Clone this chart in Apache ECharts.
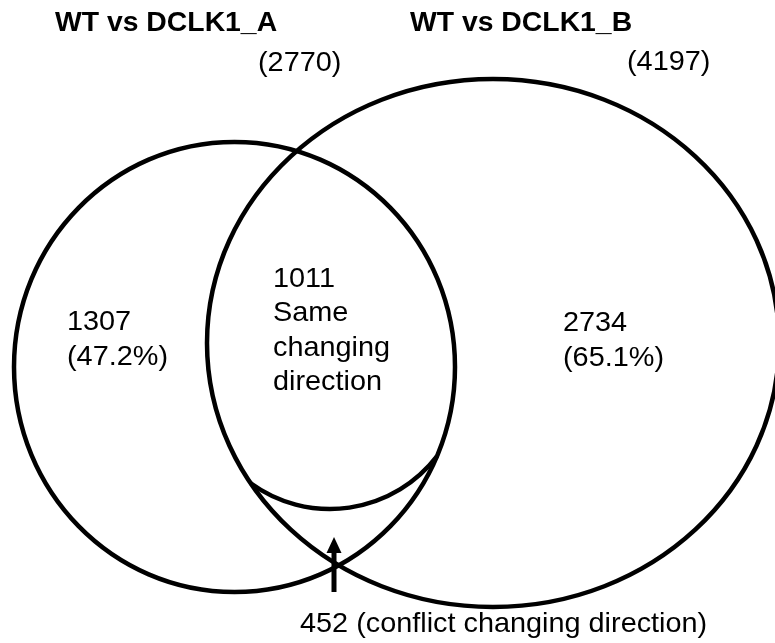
<!DOCTYPE html>
<html>
<head>
<meta charset="utf-8">
<script src="https://cdn.jsdelivr.net/npm/echarts@6/dist/echarts.min.js"></script>
<style>
  html, body { margin: 0; padding: 0; background: #ffffff; }
  #chart { width: 775px; height: 643px; }
</style>
</head>
<body>
<div id="chart"></div>
<script>
// ---- data ----
const setNames = ['WT vs DCLK1_A', 'WT vs DCLK1_B'];
const setTotals = [2770, 4197];
const uniqueCounts = [1307, 2734];
const sameDirectionCount = 1011;
const conflictDirectionCount = 452;
const sameLabel = ['Same', 'changing', 'direction'];
const conflictLabel = '(conflict changing direction)';

// ---- layout (drawing space units = pixels of the 775x643 canvas) ----
const ellipseCenters = [[234.5, 367], [493, 343]];
const ellipseRadii = [[220.5, 225], [286, 264]];
const overlapArc = { c: [330, 374], r: 135, from: 37.5, to: 126 };
const arrowFrom = [334, 592];
const arrowTo = [334, 537];
const titlePos = [[55, 24], [410, 24]];
const totalPos = [[258, 63], [627, 62]];
const uniquePos = [[67, 340], [563, 341]];
const samePos = [273, 331];
const conflictPos = [300, 624];

const FONT = '"Liberation Sans", Arial, Helvetica, sans-serif';
const SX = 1.03;

function pct(a, b) { return (a / b * 100).toFixed(1) + '%'; }

const chart = echarts.init(document.getElementById('chart'), null, { renderer: 'canvas' });

function txt(api, pos, text, opts) {
  const p = api.coord(pos);
  return {
    type: 'text',
    x: p[0], y: p[1],
    scaleX: opts.scaleX || SX,
    style: {
      text: text,
      fill: '#000',
      fontFamily: FONT,
      fontSize: opts.fontSize || 28,
      fontWeight: opts.fontWeight || 'normal',
      align: 'left',
      verticalAlign: 'middle',
      lineHeight: opts.lineHeight || 35
    }
  };
}

const option = {
  backgroundColor: '#ffffff',
  animation: false,
  grid: { left: 0, right: 0, top: 0, bottom: 0 },
  xAxis: { type: 'value', min: 0, max: 775, show: false },
  yAxis: { type: 'value', min: 0, max: 643, inverse: true, show: false },
  series: [{
    type: 'custom',
    coordinateSystem: 'cartesian2d',
    clip: false,
    data: [[0, 0]],
    renderItem: function (params, api) {
      const children = [];
      // the two set ellipses
      for (let i = 0; i < 2; i++) {
        const c = api.coord(ellipseCenters[i]);
        const s = api.size(ellipseRadii[i]);
        children.push({
          type: 'ellipse',
          shape: { cx: c[0], cy: c[1], rx: s[0], ry: s[1] },
          style: { fill: null, stroke: '#000', lineWidth: 4.5 }
        });
      }
      // arc separating same / conflict direction within overlap
      const ac = api.coord(overlapArc.c);
      const ar = api.size([overlapArc.r, overlapArc.r])[1];
      children.push({
        type: 'arc',
        shape: {
          cx: ac[0], cy: ac[1], r: ar,
          startAngle: overlapArc.from * Math.PI / 180,
          endAngle: overlapArc.to * Math.PI / 180,
          clockwise: true
        },
        style: { fill: null, stroke: '#000', lineWidth: 4.5 }
      });
      // arrow
      const a0 = api.coord(arrowFrom);
      const a1 = api.coord(arrowTo);
      children.push({
        type: 'line',
        shape: { x1: a0[0], y1: a0[1], x2: a1[0], y2: a1[1] + 14 },
        style: { stroke: '#000', lineWidth: 5 }
      });
      children.push({
        type: 'polygon',
        shape: { points: [[a1[0], a1[1]], [a1[0] - 7.5, a1[1] + 16], [a1[0] + 7.5, a1[1] + 16]] },
        style: { fill: '#000' }
      });
      // titles and totals
      for (let i = 0; i < 2; i++) {
        children.push(txt(api, titlePos[i], setNames[i], { fontSize: 27, fontWeight: 'bold', scaleX: 1.05 }));
        children.push(txt(api, totalPos[i], '(' + setTotals[i] + ')', {}));
        children.push(txt(api, uniquePos[i],
          uniqueCounts[i] + '\n(' + pct(uniqueCounts[i], setTotals[i]) + ')', {}));
      }
      children.push(txt(api, samePos, [String(sameDirectionCount)].concat(sameLabel).join('\n'), { lineHeight: 34.5 }));
      children.push(txt(api, conflictPos, conflictDirectionCount + ' ' + conflictLabel, {}));
      return { type: 'group', children: children };
    }
  }]
};
chart.setOption(option);
</script>
</body>
</html>
